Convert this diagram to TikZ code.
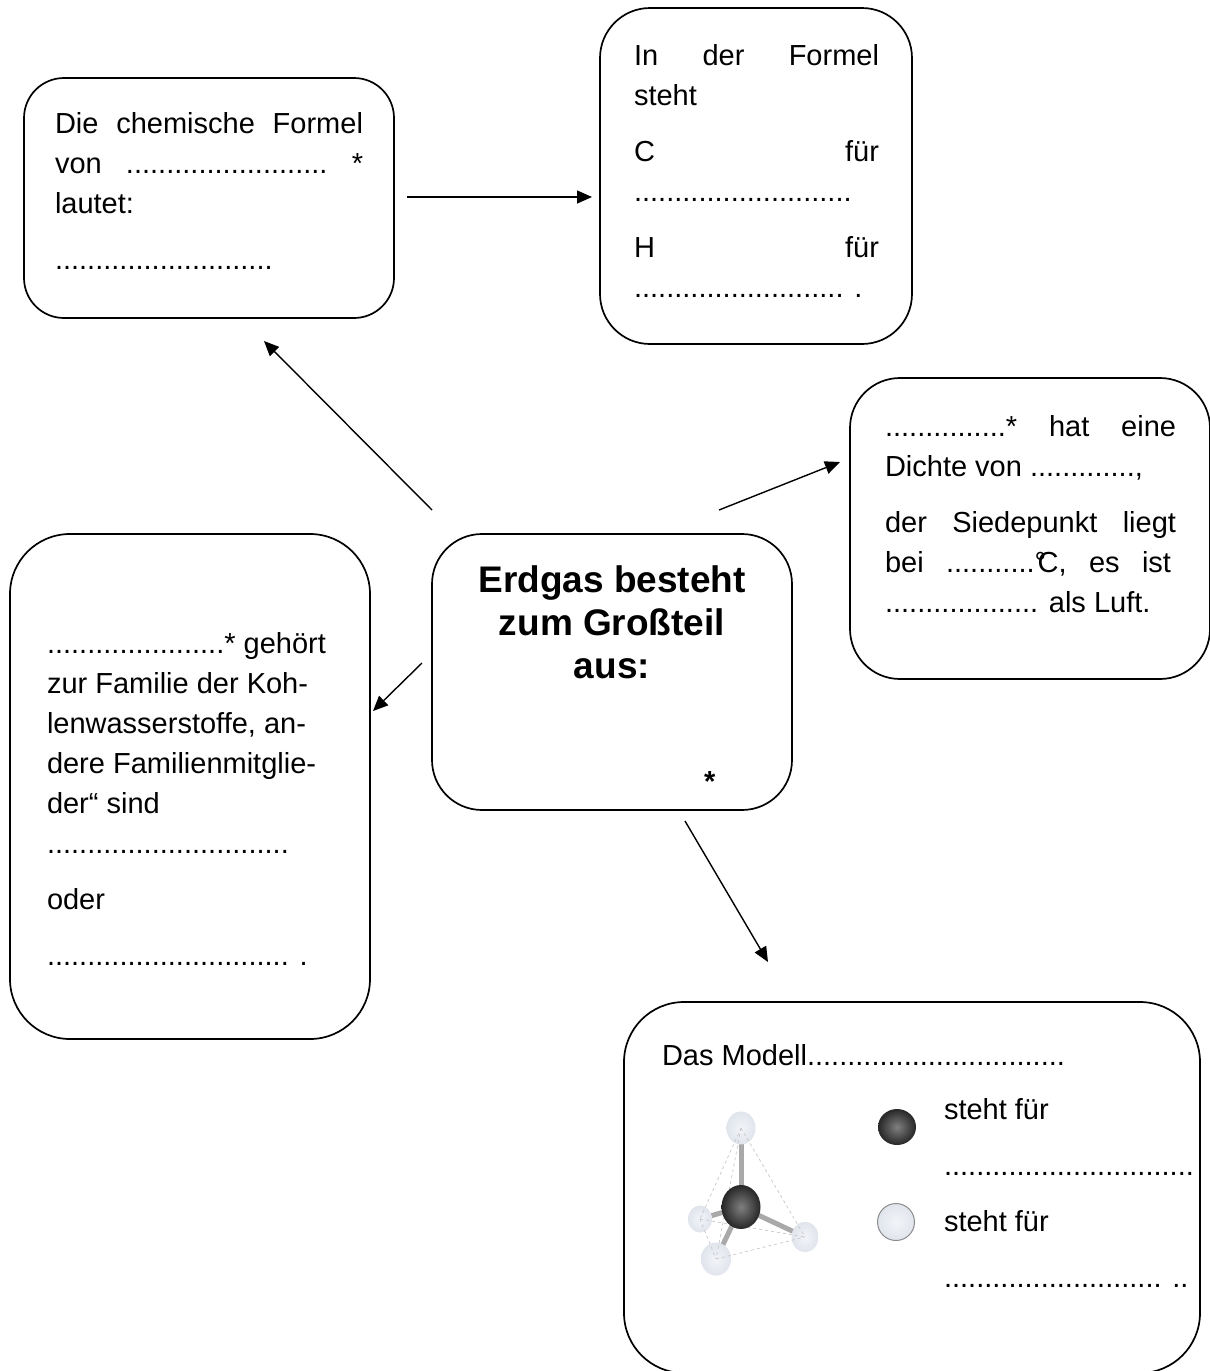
\documentclass[tikz,border=0pt]{standalone}
\usepackage{fontspec}
\setmainfont{Liberation Sans}
\usetikzlibrary{arrows.meta,shapes.geometric}
\definecolor{hball}{HTML}{E0E4EC}
\definecolor{bond}{HTML}{A9A9A9}
\definecolor{tetra}{HTML}{C8C8C8}
\tikzset{
  box/.style={draw=black,line width=1.7pt,fill=white,inner sep=0pt,outer sep=0pt,anchor=north west},
  conn/.style={draw=black,line width=1.4pt,-{Triangle[length=15pt,width=13pt]}},
  txt/.style={anchor=base west,inner sep=0pt,outer sep=0pt,font=\fontsize{29}{34}\selectfont},
  head/.style={anchor=base,inner sep=0pt,outer sep=0pt,font=\fontsize{37}{42}\selectfont\bfseries},
  hatom/.style={ellipse,inner sep=0pt,outer sep=0pt,inner color=white!60!hball,outer color=hball},
  catom/.style={ellipse,inner sep=0pt,outer sep=0pt,inner color=black!50,outer color=black!85},
  bondline/.style={draw=bond,line width=5pt},
  tetraline/.style={draw=tetra,line width=0.7pt,dash pattern=on 3pt off 3pt},
}
\newcommand{\jline}[2]{\hbox to #1{#2}}
\begin{document}
\begin{tikzpicture}[x=1pt,y=-1pt]
\useasboundingbox (0,0) rectangle (1210,1371);
\clip (0,0) rectangle (1210,1371);
% boxes
\node[box,rounded corners=40pt,minimum width=370pt,minimum height=240pt] (formel) at (24,78) {};
\node[box,rounded corners=50pt,minimum width=312pt,minimum height=336pt] (steht) at (600,8) {};
\node[box,rounded corners=50pt,minimum width=360pt,minimum height=301pt] (dichte) at (850,378) {};
\node[box,rounded corners=50pt,minimum width=360pt,minimum height=276pt] (erdgas) at (432,534) {};
\node[box,rounded corners=60pt,minimum width=360pt,minimum height=505pt] (familie) at (10,534) {};
\node[box,rounded corners=60pt,minimum width=576pt,minimum height=371pt] (modell) at (624,1002) {};
% box 1
\node[txt] (f1) at (55,133) {\jline{308pt}{Die\hfill chemische\hfill Formel}};
\node[txt] (f2) at (55,173) {\jline{308pt}{von\hfill .........................\hfill *}};
\node[txt] (f3) at (55,213) {lautet:};
\node[txt] (f4) at (55,269) {...........................};
% box 2
\node[txt] (s1) at (634,65) {\jline{245pt}{In\hfill der\hfill Formel}};
\node[txt] (s2) at (634,105) {steht};
\node[txt] (s3) at (634,161) {\jline{245pt}{C\hfill für}};
\node[txt] (s4) at (634,201) {...........................};
\node[txt] (s5) at (634,257) {\jline{245pt}{H\hfill für}};
\node[txt] (s6) at (634,297) {.......................... .};
% box 3
\node[txt] (d1) at (885,436) {\jline{291pt}{...............*\hfill hat\hfill eine}};
\node[txt] (d2) at (885,476) {Dichte von .............,};
\node[txt] (d3) at (885,532) {\jline{291pt}{der\hfill Siedepunkt\hfill liegt}};
\node[txt] (d4) at (885,572) {\jline{286pt}{bei\hfill ...........°\kern-0.3em C,\hfill es\hfill ist}};
\node[txt] (d5) at (885,612) {................... als Luft.};
% centre
\node[head] (e1) at (612,592) {Erdgas besteht};
\node[head] (e2) at (612,635) {zum Großteil};
\node[head] (e3) at (612,678) {aus:};
\node[txt] (e4) at (704,791) {\bfseries *};
% left box
\node[txt] (l1) at (47,653) {......................* gehört};
\node[txt] (l2) at (47,693) {zur Familie der Koh-};
\node[txt] (l3) at (47,733) {lenwasserstoffe, an-};
\node[txt] (l4) at (47,773) {dere Familienmitglie-};
\node[txt] (l5) at (47,813) {der“ sind};
\node[txt] (l6) at (47,853) {..............................};
\node[txt] (l7) at (47,909) {oder};
\node[txt] (l8) at (47,965) {.............................. .};
% bottom box
\node[txt] (m1) at (662,1065) {Das Modell................................};
\node[txt] (m2) at (944,1119) {steht für};
\node[txt] (m3) at (944,1175) {...............................};
\node[txt] (m4) at (944,1231) {steht für};
\node[txt] (m5) at (944,1287) {........................... ..};
% legend balls
\node[catom,minimum width=38pt,minimum height=36pt] (lc) at (897,1127) {};
\node[hatom,draw=black!45,line width=1pt,minimum width=37pt,minimum height=37pt] (lh) at (896,1222) {};
% molecule
\coordinate (ht) at (741,1128);
\coordinate (hl) at (700,1219);
\coordinate (hb) at (716,1259);
\coordinate (hr) at (805,1237);
\coordinate (cc) at (741,1207);
\draw[bondline] (cc)--(ht);
\draw[bondline] (cc)--(hl);
\draw[bondline] (cc)--(hb);
\draw[bondline] (cc)--(hr);
\node[hatom,minimum width=29pt,minimum height=33pt] (aht) at (ht) {};
\node[hatom,minimum width=24pt,minimum height=27pt] (ahl) at (hl) {};
\node[hatom,minimum width=30pt,minimum height=33pt] (ahb) at (hb) {};
\node[hatom,minimum width=27pt,minimum height=30pt] (ahr) at (hr) {};
\draw[tetraline] (ht)--(hl);
\draw[tetraline] (ht)--(hb);
\draw[tetraline] (ht)--(hr);
\draw[tetraline] (hl)--(hb);
\draw[tetraline] (hl)--(hr);
\draw[tetraline] (hb)--(hr);
\node[catom,minimum width=39pt,minimum height=44pt] (ac) at (cc) {};
% connectors
\coordinate (a1s) at (407,197); \coordinate (a1e) at (592,197);
\coordinate (a2s) at (432,510); \coordinate (a2e) at (264,341);
\coordinate (a3s) at (719,510); \coordinate (a3e) at (840,462);
\coordinate (a4s) at (422,663); \coordinate (a4e) at (373,711);
\coordinate (a5s) at (685,821); \coordinate (a5e) at (768,962);
\draw[conn] (a1s)--(a1e);
\draw[conn] (a2s)--(a2e);
\draw[conn] (a3s)--(a3e);
\draw[conn] (a4s)--(a4e);
\draw[conn] (a5s)--(a5e);
\end{tikzpicture}
\end{document}
